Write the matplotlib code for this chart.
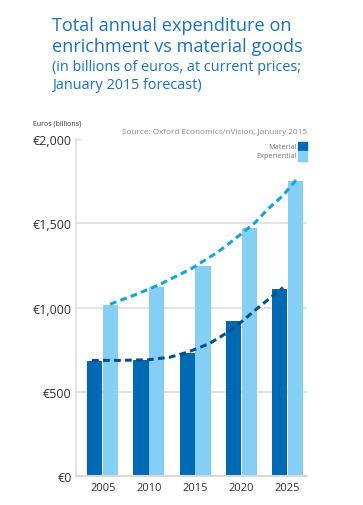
import numpy as np
import matplotlib.pyplot as plt

years = ["2005", "2010", "2015", "2020", "2025"]
material = [684, 688, 730, 919, 1109]
experiential = [1014, 1119, 1247, 1471, 1751]

# dashed trend curves (x in group-index units)
mat_trend_x = [-0.23, 0.3, 0.99, 1.45, 1.83, 2.3, 2.7, 3.0, 3.3, 3.6, 3.9]
mat_trend_y = [686, 686, 690, 705, 734, 785, 852, 915, 985, 1052, 1118]
exp_trend_x = [0.16, 0.7, 1.25, 1.90, 2.48, 2.99, 3.30, 3.57, 3.9, 4.18]
exp_trend_y = [1020, 1075, 1139, 1228, 1327, 1435, 1505, 1584, 1665, 1756]

yticks = [0, 500, 1000, 1500, 2000]
ytick_labels = ["€0", "€500", "€1,000", "€1,500", "€2,000"]

dark = "#0069b4"
light = "#84cff3"
title_blue = "#1a73c0"
plt.rcParams["font.family"] = ["Open Sans", "DejaVu Sans"]

fig = plt.figure(figsize=(3.63, 5.06), dpi=100)
ax = fig.add_axes([0.209, 0.0573, 0.637, 0.666])

x = np.arange(len(years))
w = 0.33
ax.bar(x - 0.17, material, w, color=dark, zorder=2)
ax.bar(x + 0.17, experiential, w, color=light, zorder=2)

ax.plot(mat_trend_x, mat_trend_y, ls=(0, (2.2, 1.4)), lw=2.2, color="#0a4f8c", zorder=3)
ax.plot(exp_trend_x, exp_trend_y, ls=(0, (2.2, 1.4)), lw=2.2, color="#16a4dc", zorder=3)

ax.set_xlim(-0.58, 4.42)
ax.set_ylim(0, 2000)
ax.set_xticks(x)
ax.set_xticklabels(years, fontsize=8, color="#333333")
ax.set_yticks(yticks)
ax.set_yticklabels(ytick_labels, fontsize=9, color="#333333")
ax.tick_params(length=0, pad=3)
ax.tick_params(axis="x", pad=4)

for v in yticks[1:-1]:
    ax.axhline(v, color="#e0e0e0", lw=1.3, zorder=1)
ax.axhline(2000, xmax=0.02, color="#d8d8d8", lw=1.0, zorder=1)

for s in ["top", "right"]:
    ax.spines[s].set_visible(False)
ax.spines["left"].set_color("#e0e0e0")
ax.spines["left"].set_linewidth(1.3)
ax.spines["bottom"].set_color("#d8d8d8")
ax.spines["bottom"].set_linewidth(1.5)

# legend: text with square swatches on the right
fig.text(0.817, 0.708, "Material", fontsize=5.3, color="#777777", ha="right", va="center")
fig.text(0.817, 0.690, "Experiential", fontsize=5.3, color="#777777", ha="right", va="center")
fig.patches.append(plt.Rectangle((0.822, 0.699), 0.025, 0.019, color=dark, transform=fig.transFigure))
fig.patches.append(plt.Rectangle((0.822, 0.680), 0.025, 0.019, color=light, transform=fig.transFigure))

fig.text(0.846, 0.739, "Source: Oxford Economics/nVision, January 2015",
         fontsize=5.9, color="#888888", ha="right", va="center")
fig.text(0.09, 0.755, "Euros (billions)", fontsize=5, color="#333333", ha="left", va="center")

fig.text(0.143, 0.948, "Total annual expenditure on", fontsize=13.1, color=title_blue, ha="left", va="center")
fig.text(0.143, 0.908, "enrichment vs material goods", fontsize=13.1, color=title_blue, ha="left", va="center")
fig.text(0.143, 0.866, "(in billions of euros, at current prices;", fontsize=10.4, color=title_blue, ha="left", va="center")
fig.text(0.143, 0.831, "January 2015 forecast)", fontsize=10.4, color=title_blue, ha="left", va="center")

fig.savefig("out.png", dpi=100)
